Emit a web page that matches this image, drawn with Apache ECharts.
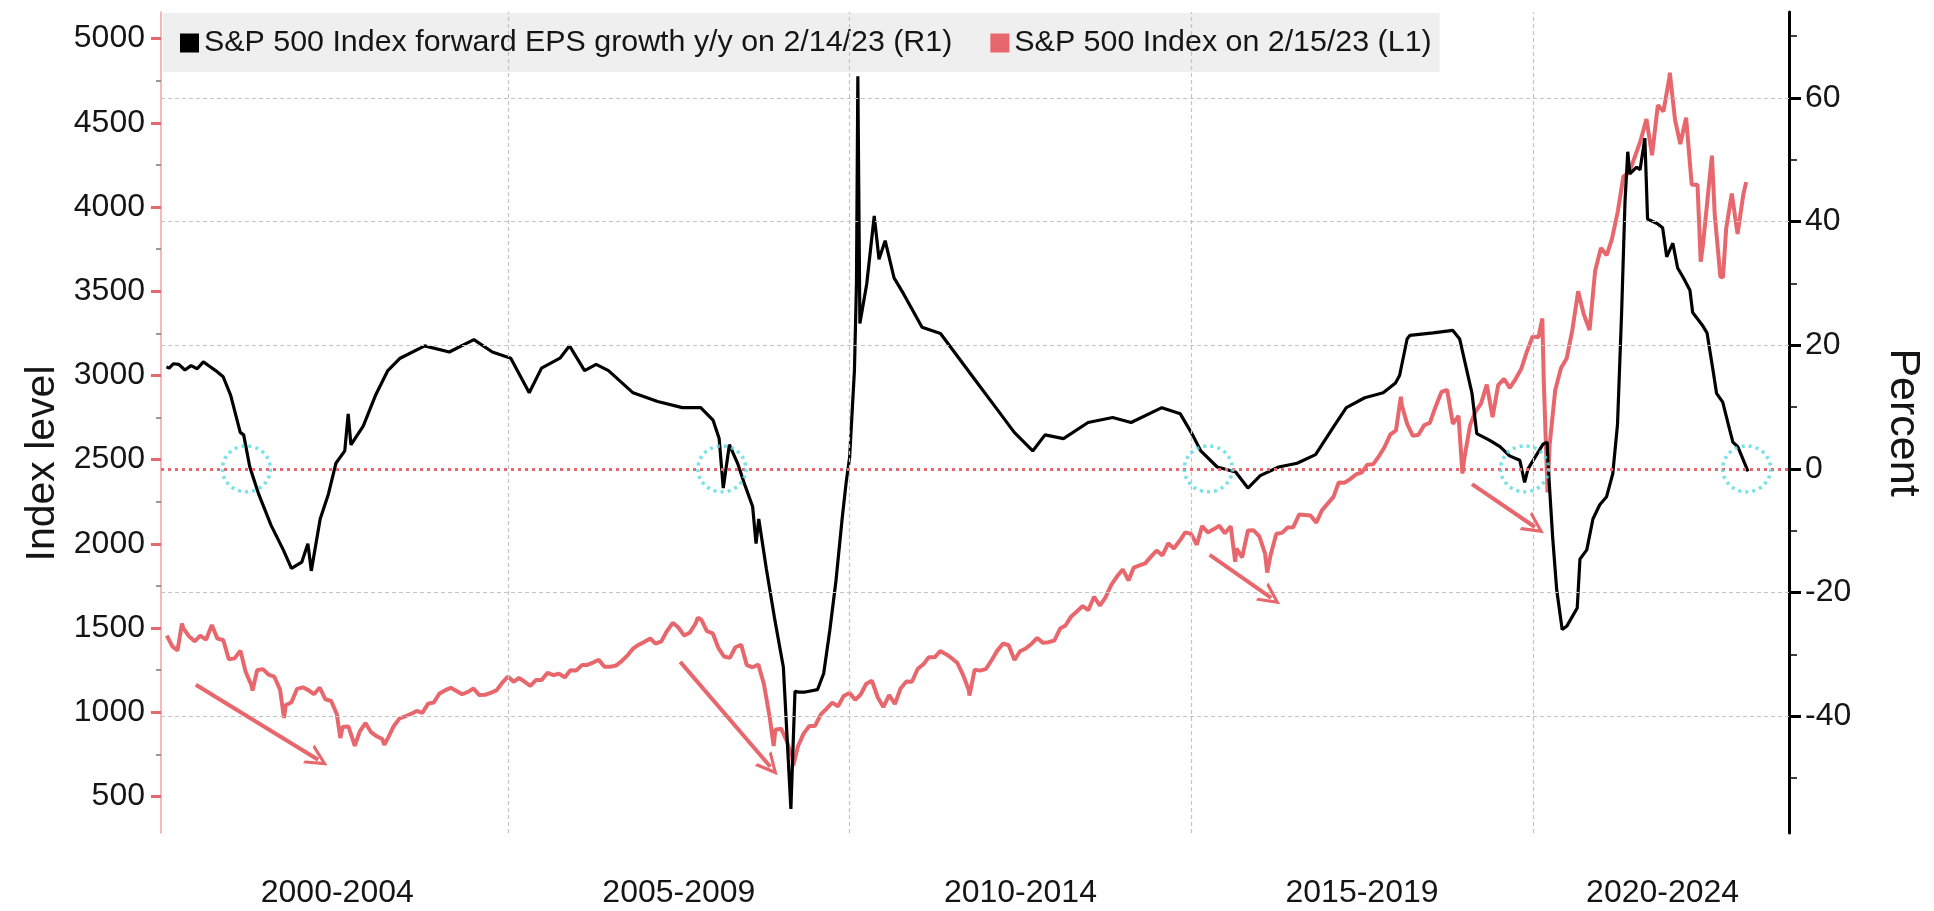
<!DOCTYPE html>
<html>
<head>
<meta charset="utf-8">
<script src="https://cdn.jsdelivr.net/npm/echarts@6/dist/echarts.min.js"></script>
<style>
html,body{margin:0;padding:0;background:#fff;}
#chart{width:1934px;height:911px;}
</style>
</head>
<body>
<div id="chart"></div>
<script>
// ---------- DATA ----------
const epsName = 'S&P 500 Index forward EPS growth y/y on 2/14/23 (R1)';
const spxName = 'S&P 500 Index on 2/15/23 (L1)';

// x-axis category labels and where they are centred (decimal years)
const xLabels = ['2000-2004', '2005-2009', '2010-2014', '2015-2019', '2020-2024'];
const xLabelPos = [2002.5, 2007.5, 2012.5, 2017.5, 2021.9];
const xGridYears = [2005, 2010, 2015, 2020];

const leftTicks = [500, 1000, 1500, 2000, 2500, 3000, 3500, 4000, 4500, 5000];
const leftMinorTicks = [750, 1250, 1750, 2250, 2750, 3250, 3750, 4250, 4750];
const rightTicks = [-40, -20, 0, 20, 40, 60];
const rightMinorTicks = [-50, -30, -10, 10, 30, 50, 70];
const rightGridValues = [-40, -20, 20, 40, 60];

// S&P 500 month-end closes, Jan 2000 .. Jan 2023
const spx2000 = [1394,1366,1499,1452,1421,1455,1431,1518,1437,1429,1315,1320];
const spx2001 = [1366,1240,1160,1249,1256,1224,1211,1134,1041,1060,1139,1148];
const spx2002 = [1130,1107,1147,1077,1067,990,912,916,815,886,936,880];
const spx2003 = [856,841,848,917,964,975,990,1008,996,1051,1058,1112];
const spx2004 = [1131,1145,1126,1107,1121,1141,1102,1104,1115,1130,1174,1212];
const spx2005 = [1181,1204,1181,1157,1192,1191,1234,1220,1229,1207,1249,1248];
const spx2006 = [1280,1281,1295,1311,1270,1270,1277,1304,1336,1378,1401,1418];
const spx2007 = [1438,1407,1421,1482,1531,1503,1455,1474,1527,1549,1481,1468];
const spx2008 = [1379,1331,1323,1386,1400,1280,1267,1283,1166,969,896,903];
const spx2009 = [826,735,798,873,919,919,987,1021,1057,1036,1096,1115];
const spx2010 = [1074,1104,1169,1187,1089,1031,1102,1049,1141,1183,1181,1258];
const spx2011 = [1286,1327,1326,1364,1345,1321,1292,1219,1131,1253,1247,1258];
const spx2012 = [1312,1366,1408,1398,1310,1362,1379,1407,1441,1412,1416,1426];
const spx2013 = [1498,1515,1569,1598,1631,1606,1686,1633,1682,1757,1806,1848];
const spx2014 = [1783,1859,1872,1884,1924,1960,1931,2003,1972,2018,2068,2059];
const spx2015 = [1995,2105,2068,2086,2107,2063,2104,1972,1920,2079,2080,2044];
const spx2016 = [1940,1932,2060,2065,2097,2099,2174,2171,2168,2126,2199,2239];
const spx2017 = [2279,2364,2363,2384,2412,2423,2470,2472,2519,2575,2648,2674];
const spx2018 = [2824,2714,2641,2648,2705,2718,2816,2902,2914,2712,2760,2507];
const spx2019 = [2704,2784,2834,2946,2752,2942,2980,2926,2977,3038,3141,3231];
const spx2020 = [3226,2954,2585,2912,3044,3100,3271,3500,3363,3270,3622,3756];
const spx2021 = [3714,3811,3973,4181,4204,4298,4395,4523,4308,4605,4567,4766];
const spx2022 = [4516,4374,4530,4132,4132,3785,4130,3955,3586,3872,4080,3840];
const spx2023 = [4077];
// intra-month turning points
const spxExtra = [
  ['2000-01-03',1455],['2000-03-24',1527],['2000-09-01',1520],['2001-04-06',1128],
  ['2001-09-21',966],['2002-07-19',847],['2002-10-04',800],['2003-03-11',807],
  ['2007-10-12',1561],['2008-11-21',800],['2009-03-06',683],['2010-07-02',1022],
  ['2011-10-03',1099],['2015-08-24',1893],['2016-02-11',1829],['2018-01-26',2873],
  ['2018-12-21',2417],['2020-02-21',3338],['2020-03-20',2305],['2022-01-03',4797],
  ['2022-06-17',3675],['2022-08-16',4305],['2022-10-14',3583],['2023-02-15',4148]
];

// forward EPS growth y/y (%), [decimal year, value]
const epsPoints = [
  [2000.00,16.5],[2000.04,16.3],[2000.10,17.0],[2000.18,16.9],[2000.27,16.0],[2000.36,16.7],
  [2000.45,16.2],[2000.54,17.3],[2000.63,16.6],[2000.72,15.9],[2000.83,14.9],[2000.94,11.9],
  [2001.08,5.9],[2001.13,5.5],[2001.22,0.3],[2001.35,-4.1],[2001.53,-9.1],[2001.71,-13.1],
  [2001.83,-16.1],[2001.98,-15.1],[2002.07,-12.1],[2002.12,-16.5],[2002.25,-8.1],[2002.37,-4.1],
  [2002.48,0.9],[2002.61,2.9],[2002.66,8.9],[2002.70,3.9],[2002.88,6.9],[2003.06,11.9],
  [2003.24,15.9],[2003.42,17.9],[2003.78,19.9],[2004.14,18.9],[2004.50,20.9],[2004.77,18.9],
  [2005.04,17.9],[2005.31,12.3],[2005.49,16.3],[2005.76,17.9],[2005.90,19.9],[2006.12,15.9],
  [2006.29,16.9],[2006.47,15.9],[2006.83,12.3],[2007.19,10.9],[2007.55,9.9],[2007.82,9.9],
  [2008.00,7.9],[2008.09,4.9],[2008.15,-3.1],[2008.24,3.9],[2008.36,0.9],[2008.45,-2.1],
  [2008.58,-6.1],[2008.63,-12.1],[2008.67,-8.1],[2008.78,-16.1],[2008.90,-24.1],[2009.03,-32.1],
  [2009.14,-55],[2009.20,-36],[2009.26,-36.1],[2009.35,-36.1],[2009.53,-35.7],[2009.62,-33.1],
  [2009.71,-26.1],[2009.80,-18.1],[2009.89,-8.1],[2009.95,-2.1],[2010.00,1.9],[2010.07,15.9],
  [2010.10,30],[2010.12,63.5],[2010.15,23.5],[2010.25,29.9],[2010.36,40.9],[2010.43,33.9],
  [2010.52,36.9],[2010.65,30.9],[2010.79,28.3],[2011.06,22.9],[2011.33,21.9],[2011.60,17.9],
  [2011.87,13.9],[2012.14,9.9],[2012.41,5.9],[2012.68,2.9],[2012.86,5.5],[2013.13,4.9],
  [2013.49,7.5],[2013.85,8.3],[2014.12,7.5],[2014.57,9.9],[2014.84,8.9],[2015.02,5.5],
  [2015.14,2.9],[2015.38,0.3],[2015.65,-0.5],[2015.83,-3.1],[2016.01,-1.1],[2016.28,0.3],
  [2016.55,0.9],[2016.82,2.3],[2017.09,6.9],[2017.27,9.9],[2017.54,11.5],[2017.81,12.3],
  [2017.99,13.9],[2018.05,15.1],[2018.16,21.0],[2018.20,21.6],[2018.54,22.0],[2018.83,22.4],
  [2018.93,21.0],[2019.11,12.2],[2019.18,5.7],[2019.37,4.6],[2019.52,3.6],[2019.66,2.1],
  [2019.81,1.4],[2019.88,-2.2],[2019.93,0],[2020.15,4.0],[2020.21,4.3],[2020.22,1.4],
  [2020.29,-11],[2020.35,-19.6],[2020.43,-26],[2020.50,-25.4],[2020.65,-22.5],[2020.69,-14.6],
  [2020.79,-13.1],[2020.88,-8.1],[2020.98,-5.8],[2021.08,-4.5],[2021.17,-0.8],[2021.24,7.2],
  [2021.30,25.3],[2021.35,43.4],[2021.39,51.3],[2021.42,47.7],[2021.52,48.8],[2021.57,48.4],
  [2021.64,53.5],[2021.68,40.4],[2021.82,39.7],[2021.90,39.0],[2021.96,34.3],[2022.05,36.5],
  [2022.12,32.5],[2022.20,31.0],[2022.30,28.9],[2022.34,25.3],[2022.49,23.1],[2022.55,22.0],
  [2022.64,15.8],[2022.69,12.2],[2022.78,10.8],[2022.88,6.4],[2022.93,4.3],[2023.00,3.6],
  [2023.15,-0.4]
];

// annotations: dotted circles on the zero line (decimal years)
const circleYears = [2001.17, 2008.13, 2015.25, 2019.88, 2023.13];
// red arrows: [startYear, startIndex, endYear, endIndex]
const arrows = [
  [2000.43, 1163, 2002.22, 718],
  [2007.52, 1299, 2008.84, 676],
  [2015.27, 1934, 2016.17, 1679],
  [2019.11, 2355, 2020.03, 2100]
];

// ---------- BUILD ----------
function decYear(s){
  const d = new Date(s + 'T00:00:00Z');
  const y = d.getUTCFullYear();
  const start = Date.UTC(y,0,1), end = Date.UTC(y+1,0,1);
  return y + (d.getTime()-start)/(end-start);
}
const spxYears = [spx2000,spx2001,spx2002,spx2003,spx2004,spx2005,spx2006,spx2007,spx2008,
  spx2009,spx2010,spx2011,spx2012,spx2013,spx2014,spx2015,spx2016,spx2017,spx2018,spx2019,
  spx2020,spx2021,spx2022,spx2023];
let spxData = [];
spxYears.forEach((arr, i) => {
  arr.forEach((v, m) => {
    const y = 2000 + i;
    const last = new Date(Date.UTC(y, m + 1, 0));
    spxData.push([decYear(last.toISOString().slice(0,10)), v]);
  });
});
spxExtra.forEach(p => spxData.push([decYear(p[0]), p[1]]));
spxData.sort((a,b) => a[0]-b[0]);

const RED = '#e8676d';
const FONT = 'Liberation Sans';
const xMin = 1999.92, xMax = 2023.75;
const lMin = 283, lMax = 5158;
const rMin = -58.9, rMax = 73.9;

const chevron = 'path://M0,22 L11,0 L22,22 L18.5,22 L11,7 L3.5,22 Z';

const option = {
  animation: false,
  backgroundColor: '#fff',
  grid: { left: 161, right: 145, top: 12, bottom: 78, containLabel: false },
  legend: {
    data: [epsName, spxName],
    left: 163, top: 13,
    padding: [15, 8, 14, 17],
    itemGap: 38, itemWidth: 19, itemHeight: 19,
    icon: 'rect',
    backgroundColor: '#efefef',
    textStyle: { fontSize: 30.4, fontFamily: FONT, color: '#151515' },
    selectedMode: false
  },
  xAxis: [{
    type: 'value', min: xMin, max: xMax,
    axisLine: { show: false }, axisTick: { show: false }, splitLine: { show: false },
    axisLabel: {
      customValues: xLabelPos,
      formatter: v => { const i = xLabelPos.findIndex(p => Math.abs(p - v) < 1e-6); return i >= 0 ? xLabels[i] : ''; },
      fontSize: 32, fontFamily: FONT, color: '#151515', margin: 44
    }
  }],
  yAxis: [
    { type: 'value', position: 'left', min: lMin, max: lMax,
      axisLine: { show: true, lineStyle: { color: '#f0a3a3', width: 1.5 } },
      axisTick: { show: true, customValues: leftTicks, length: 10, lineStyle: { color: RED, width: 3 } },
      axisLabel: { customValues: leftTicks, formatter: v => String(v), fontSize: 32, fontFamily: FONT, color: '#151515', margin: 16 },
      splitLine: { show: false },
      name: 'Index level', nameLocation: 'middle', nameRotate: 90, nameGap: 86,
      nameTextStyle: { fontSize: 41, fontFamily: FONT, color: '#151515', padding: [0, 82, 0, 0] }
    },
    { type: 'value', position: 'right', min: rMin, max: rMax,
      axisLine: { show: true, lineStyle: { color: '#000', width: 3 } },
      axisTick: { show: true, customValues: rightTicks, length: 12, lineStyle: { color: '#000', width: 3 } },
      axisLabel: { customValues: rightTicks, formatter: v => String(v), fontSize: 32, fontFamily: FONT, color: '#151515', margin: 16 },
      splitLine: { show: false },
      name: 'Percent', nameLocation: 'middle', nameRotate: -90, nameGap: 92,
      nameTextStyle: { fontSize: 43, fontFamily: FONT, color: '#151515' }
    },
    { type: 'value', position: 'left', min: lMin, max: lMax,
      axisLine: { show: false },
      axisTick: { show: true, customValues: leftMinorTicks, length: 5, lineStyle: { color: '#777', width: 1.5 } },
      axisLabel: { show: false }, splitLine: { show: false }
    },
    { type: 'value', position: 'right', min: rMin, max: rMax,
      axisLine: { show: false },
      axisTick: { show: true, customValues: rightMinorTicks, length: 8, lineStyle: { color: '#000', width: 1.5 } },
      axisLabel: { show: false }, splitLine: { show: false }
    }
  ],
  series: [
    { name: 'grid', type: 'line', xAxisIndex: 0, yAxisIndex: 1, data: [], silent: true, z: 1,
      markLine: { silent: true, symbol: 'none', label: { show: false }, animation: false,
        lineStyle: { color: '#c4c4c4', type: [4, 3], width: 1.2 },
        data: rightGridValues.map(v => ({ yAxis: v })).concat(xGridYears.map(v => ({ xAxis: v })))
      }
    },
    { name: spxName, type: 'line', xAxisIndex: 0, yAxisIndex: 0, data: spxData,
      showSymbol: false, symbol: 'none', color: RED, itemStyle: { color: RED },
      lineStyle: { color: RED, width: 4 }, z: 3,
      markLine: { silent: true, symbol: ['none', chevron], symbolSize: [22, 22], label: { show: false },
        lineStyle: { color: RED, width: 4, type: 'solid' },
        data: arrows.map(a => [{ coord: [a[0], a[1]] }, { coord: [a[2], a[3]] }])
      }
    },
    { name: epsName, type: 'line', xAxisIndex: 0, yAxisIndex: 1, data: epsPoints,
      showSymbol: false, symbol: 'none', color: '#000', itemStyle: { color: '#000' },
      lineStyle: { color: '#000', width: 3.2 }, z: 4
    },
    { name: 'zero', type: 'line', xAxisIndex: 0, yAxisIndex: 1, data: [], silent: true, z: 5,
      markLine: { silent: true, symbol: 'none', label: { show: false },
        lineStyle: { color: RED, type: [3, 4], width: 3 },
        data: [{ yAxis: 0 }]
      }
    },
    { name: 'circles', type: 'scatter', xAxisIndex: 0, yAxisIndex: 1,
      data: circleYears.map(y => [y, 0]), symbol: 'circle', symbolSize: [48, 46], silent: true, z: 6,
      itemStyle: { color: 'rgba(0,0,0,0)', borderColor: '#56dbe0', borderWidth: 3.5, borderType: [3, 4] }
    }
  ]
};

const chart = echarts.init(document.getElementById('chart'), null, { renderer: 'canvas' });
chart.setOption(option);
</script>
</body>
</html>
